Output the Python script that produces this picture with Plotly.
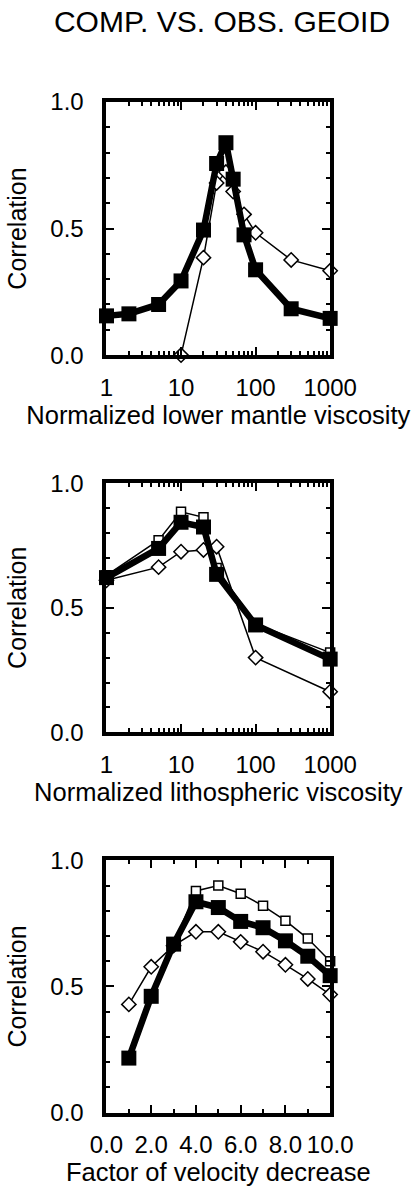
import plotly.graph_objects as go

# panel 1: lower mantle viscosity
lm_x_sq = [1, 2, 5, 10, 20, 30, 40, 50, 70, 100, 300, 1000]
lm_filled = [0.155, 0.163, 0.20, 0.293, 0.494, 0.757, 0.839, 0.695, 0.475, 0.337, 0.183, 0.145]
lm_open = [0.155, 0.163, 0.20, 0.293, 0.494, 0.757, 0.845, 0.70, 0.475, 0.337, 0.183, 0.145]
lm_x_dia = [10, 20, 30, 40, 50, 70, 100, 300, 1000]
lm_dia = [0.0, 0.385, 0.68, 0.723, 0.646, 0.556, 0.483, 0.376, 0.333]

# panel 2: lithospheric viscosity
li_x = [1, 5, 10, 20, 30, 100, 1000]
li_filled = [0.621, 0.738, 0.843, 0.824, 0.634, 0.431, 0.294]
li_open = [0.63, 0.771, 0.885, 0.863, 0.66, 0.435, 0.32]
li_dia = [0.61, 0.663, 0.725, 0.732, 0.745, 0.30, 0.163]

# panel 3: factor of velocity decrease
vd_x = [1, 2, 3, 4, 5, 6, 7, 8, 9, 10]
vd_filled = [0.216, 0.461, 0.668, 0.836, 0.813, 0.758, 0.733, 0.681, 0.62, 0.543]
vd_open = [0.216, 0.461, 0.668, 0.879, 0.90, 0.868, 0.82, 0.761, 0.69, 0.60]
vd_dia = [0.429, 0.578, 0.662, 0.717, 0.717, 0.677, 0.638, 0.586, 0.53, 0.468]

titles_x = ['Normalized lower mantle viscosity',
            'Normalized lithospheric viscosity',
            'Factor of velocity decrease']

FONT = 'Liberation Sans, Arial, sans-serif'
W, H = 418, 1193

fig = go.Figure()


def add_panel(n, xs_sq, filled, opened, xs_dia, dia):
    xa = 'x' if n == 1 else f'x{n}'
    ya = 'y' if n == 1 else f'y{n}'
    # open squares under the filled ones, diamonds in between
    fig.add_trace(go.Scatter(
        x=xs_sq, y=opened, mode='lines+markers', xaxis=xa, yaxis=ya,
        line=dict(color='black', width=1.5),
        marker=dict(symbol='square', size=9, color='white',
                    line=dict(color='black', width=1.5)),
        cliponaxis=False, showlegend=False))
    fig.add_trace(go.Scatter(
        x=xs_dia, y=dia, mode='lines+markers', xaxis=xa, yaxis=ya,
        line=dict(color='black', width=1.5),
        marker=dict(symbol='diamond', size=11, color='white',
                    line=dict(color='black', width=1.5)),
        cliponaxis=False, showlegend=False))
    fig.add_trace(go.Scatter(
        x=xs_sq, y=filled, mode='lines+markers', xaxis=xa, yaxis=ya,
        line=dict(color='black', width=6.5),
        marker=dict(symbol='square', size=15, color='black'),
        cliponaxis=False, showlegend=False))


add_panel(1, lm_x_sq, lm_filled, lm_open, lm_x_dia, lm_dia)
add_panel(2, li_x, li_filled, li_open, li_x, li_dia)
add_panel(3, vd_x, vd_filled, vd_open, vd_x, vd_dia)

# pixel boxes of the three frames (top, bottom)
boxes = [(90, 349), (480, 735), (866, 1124)]
x_dom = [100 / W, 350 / W]

log_minor = [m * 10 ** d for d in range(3) for m in range(2, 10)]

common = dict(showline=True, linewidth=4, linecolor='black', mirror='allticks',
              ticks='inside', tickwidth=1.5, tickcolor='black', showgrid=False,
              zeroline=False,
              tickfont=dict(family=FONT, size=24, color='black'))

layout = dict(
    width=W, height=H,
    margin=dict(l=0, r=0, t=0, b=0),
    paper_bgcolor='white', plot_bgcolor='white',
    title=dict(text='COMP. VS. OBS. GEOID', x=222 / W, xanchor='center',
               y=1 - 21 / H, yanchor='middle',
               font=dict(family=FONT, size=30, color='black')),
)

for i, (top, bot) in enumerate(boxes):
    n = i + 1
    key = '' if n == 1 else str(n)
    xax = dict(common, domain=x_dom, anchor='y' + key, ticklen=8,
               ticklabelstandoff=8,
               title=dict(text=titles_x[i], standoff=4,
                          font=dict(family=FONT, size=25.5, color='black')))
    if n < 3:
        xax.update(type='log', range=[0, 3], tickvals=[1, 10, 100, 1000],
                   ticktext=['1', '10', '100', '1000'],
                   minor=dict(ticks='inside', ticklen=4, tickwidth=1.5,
                              tickcolor='black', tickvals=log_minor))
    else:
        xax.update(range=[0, 10], tickvals=[0, 2, 4, 6, 8, 10], tickformat='.1f',
                   minor=dict(ticks='inside', ticklen=4, tickwidth=1.5,
                              tickcolor='black', dtick=1))
    yax = dict(common, domain=[1 - bot / H, 1 - top / H], anchor='x' + key,
               range=[0, 1], tickvals=[0, 0.5, 1], tickformat='.1f', ticklen=8,
               ticklabelstandoff=14,
               minor=dict(ticks='inside', ticklen=4, tickwidth=1.5,
                          tickcolor='black', dtick=0.1),
               title=dict(text='Correlation', standoff=18,
                          font=dict(family=FONT, size=25, color='black')))
    layout['xaxis' + key] = xax
    layout['yaxis' + key] = yax

fig.update_layout(**layout)
fig.write_html('out.html', config={'displayModeBar': False},
               post_script="document.body.style.margin='0';"
                           "document.body.style.overflow='hidden';")
